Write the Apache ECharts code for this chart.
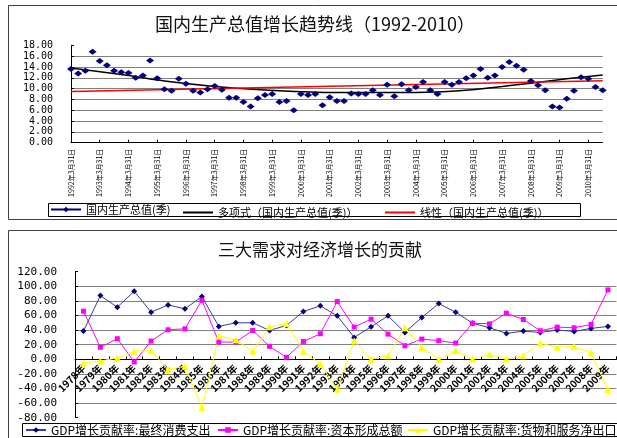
<!DOCTYPE html>
<html>
<head>
<meta charset="utf-8">
<script src="https://cdn.jsdelivr.net/npm/echarts@6/dist/echarts.min.js"></script>
<style>
  html, body { margin: 0; padding: 0; background: #fff; }
  #c { width: 617px; height: 438px; }
</style>
</head>
<body>
<div id="c"></div>
<script>
// ---- Quarterly GDP growth, 1992Q1 – 2010Q3 (%) ----
const gdpYears = [1992, 1993, 1994, 1995, 1996, 1997, 1998, 1999, 2000, 2001,
                  2002, 2003, 2004, 2005, 2006, 2007, 2008, 2009, 2010];
const quarterEnds = ['3月31日', '6月30日', '9月30日', '12月31日'];
const gdpQuarterly = [
  13.6, 12.8, 13.3, 16.8,   // 1992
  15.1, 14.3, 13.3, 13.0,   // 1993
  12.9, 12.0, 12.4, 15.2,   // 1994
  11.9,  9.9,  9.6, 11.8,   // 1995
  10.9,  9.6,  9.3,  9.9,   // 1996
  10.5,  9.8,  8.3,  8.3,   // 1997
   7.5,  6.7,  8.2,  8.8,   // 1998
   9.0,  7.5,  7.7,  6.0,   // 1999
   9.0,  8.8,  9.0,  6.9,   // 2000
   8.4,  7.7,  7.7,  9.1,   // 2001
   9.0,  9.0,  9.7,  8.8,   // 2002
  10.7,  8.6, 10.8,  9.7,   // 2003
  10.3, 11.2,  9.7,  9.0,   // 2004
  11.2, 10.7, 11.2, 11.9,   // 2005
  12.4, 13.6, 12.0, 12.4,   // 2006
  14.0, 14.9, 14.2, 13.5,   // 2007
  11.4, 10.6,  9.7,  6.7,   // 2008
   6.5,  8.1,  9.6, 12.1,   // 2009
  11.8, 10.3,  9.7          // 2010
];
// trend lines as [quarter index, value]
const polyTrend = [[0, 13.8], [8, 12.4], [13, 11.4], [20, 10.4], [27, 9.75], [37, 9.3],
                   [48, 9.3], [54, 9.6], [60, 10.4], [64, 11.0], [69, 11.8], [74, 12.5]];
const linearTrend = [[0, 9.45], [74, 11.45]];
const gdpAxis = { min: 0, max: 18, step: 2 };

// ---- Contribution of the three demands to GDP growth, 1978 – 2009 (%) ----
const demandYears = ['1978年', '1979年', '1980年', '1981年', '1982年', '1983年', '1984年', '1985年',
                     '1986年', '1987年', '1988年', '1989年', '1990年', '1991年', '1992年', '1993年',
                     '1994年', '1995年', '1996年', '1997年', '1998年', '1999年', '2000年', '2001年',
                     '2002年', '2003年', '2004年', '2005年', '2006年', '2007年', '2008年', '2009年'];
const consumption = [38.6, 87.3, 71.4, 93.2, 64.5, 74.5, 69.1, 85.9, 45.0, 50.0, 50.0, 39.5, 46.4, 65.5, 73.2, 59.5,
                     30.0, 44.5, 59.5, 36.8, 57.3, 76.4, 64.5, 49.5, 43.2, 35.5, 38.6, 36.8, 40.0, 38.2, 42.3, 45.0];
const capital     = [65.9, 16.4, 28.2, -3.6, 25.0, 40.5, 41.8, 80.9, 23.6, 23.6, 39.5, 17.7, 2.7, 24.5, 35.0, 79.1,
                     44.1, 55.0, 34.5, 18.6, 27.7, 25.5, 22.3, 49.5, 48.6, 63.2, 54.5, 39.1, 44.1, 43.2, 47.7, 95.0];
const netExports  = [-5.0, -2.3, 1.8, 10.9, 11.8, -14.1, -9.5, -66.4, 31.8, 26.8, 10.9, 44.5, 49.1, 10.9, -6.4, -40.9,
                     25.5, 0.0, 5.0, 43.2, 16.4, 0.0, 11.8, 0.5, 6.8, 0.5, 5.0, 22.3, 16.4, 17.7, 8.6, -41.4];
const demandAxis = { min: -80, max: 120, step: 20 };

const nameGdp = '国内生产总值(季)';
const namePoly = '多项式（国内生产总值(季)）';
const nameLinear = '线性（国内生产总值(季)）';
const nameCons = 'GDP增长贡献率:最终消费支出';
const nameCap = 'GDP增长贡献率:资本形成总额';
const nameNet = 'GDP增长贡献率:货物和服务净出口';

const gdpCategories = [];
gdpYears.forEach(y => quarterEnds.forEach(q => gdpCategories.push(y + '年' + q)));
gdpCategories.length = gdpQuarterly.length;

const cjk = "'Noto Sans CJK SC', sans-serif";
const mono = "'DejaVu Sans Mono', monospace";
const gridGray = '#808080';

// lower plot geometry: the category axis sits on the zero line
const demandGrid = { left: 75, right: 0.6, top: 271.7, height: 146 };
const zeroOffset = -demandGrid.height * (0 - demandAxis.min) / (demandAxis.max - demandAxis.min);

const chart = echarts.init(document.getElementById('c'), null, { renderer: 'canvas' });

function oneLegend(name, left, top, extra) {
  return Object.assign({
    data: [name], left: left, top: top, orient: 'horizontal',
    padding: 0, itemWidth: 30, itemHeight: 7, itemGap: 0,
    selectedMode: false,
    textStyle: { fontFamily: cjk, fontSize: 11, color: '#000' }
  }, extra || {});
}
const legendText12 = { fontFamily: cjk, fontSize: 12, color: '#000' };

chart.setOption({
  animation: false,
  backgroundColor: '#fff',
  title: [
    { text: '国内生产总值增长趋势线（1992-2010）', left: 310, top: 10, textAlign: 'center',
      textStyle: { fontFamily: cjk, fontSize: 18, fontWeight: 'normal', color: '#111' } },
    { text: '三大需求对经济增长的贡献', left: 315, top: 236, textAlign: 'center',
      textStyle: { fontFamily: cjk, fontSize: 17, fontWeight: 'normal', color: '#111' } }
  ],
  legend: [
    oneLegend(nameGdp, 50, 204, { lineStyle: { opacity: 1 } }),
    oneLegend(namePoly, 183, 207, { icon: 'rect', itemHeight: 2 }),
    oneLegend(nameLinear, 385, 207, { icon: 'rect', itemHeight: 2 }),
    oneLegend(nameCons, 25, 424, { itemWidth: 20, textStyle: legendText12 }),
    oneLegend(nameCap, 217, 424, { itemWidth: 20, textStyle: legendText12 }),
    oneLegend(nameNet, 407, 424, { itemWidth: 20, textStyle: legendText12 })
  ],
  grid: [
    { left: 71, right: 14.3, top: 45.3, height: 97.4, containLabel: false, outerBoundsMode: 'none' },
    Object.assign({ containLabel: false, outerBoundsMode: 'none' }, demandGrid)
  ],
  xAxis: [
    {
      gridIndex: 0, type: 'category', boundaryGap: false, data: gdpCategories,
      axisLine: { show: true, onZero: false, lineStyle: { color: '#000', width: 1 } },
      axisTick: { show: true, interval: 3, inside: true, length: 3, lineStyle: { color: '#000' } },
      axisLabel: { interval: 3, rotate: 90, fontFamily: cjk, fontSize: 7, color: '#000', margin: 6 },
      splitLine: { show: false }
    },
    {
      gridIndex: 1, type: 'category', boundaryGap: true, data: demandYears,
      position: 'bottom', offset: zeroOffset,
      axisLine: { show: true, onZero: false, lineStyle: { color: '#000', width: 1 } },
      axisTick: { show: true, interval: 0, inside: true, length: 3, lineStyle: { color: '#000' } },
      axisLabel: { interval: 0, rotate: 45, fontFamily: cjk, fontSize: 10, fontWeight: 'bold',
                   color: '#000', margin: 7 },
      splitLine: { show: false }
    }
  ],
  yAxis: [
    {
      gridIndex: 0, type: 'value', min: gdpAxis.min, max: gdpAxis.max, interval: gdpAxis.step,
      axisLine: { show: true, lineStyle: { color: '#000', width: 1 } },
      axisTick: { show: true, inside: true, length: 3, lineStyle: { color: '#000' } },
      axisLabel: { formatter: v => v.toFixed(2), fontFamily: mono, fontSize: 10, color: '#000', margin: 18 },
      splitLine: { show: true, showMinLine: false, showMaxLine: false, lineStyle: { color: gridGray, width: 1.2 } }
    },
    {
      gridIndex: 1, type: 'value', min: demandAxis.min, max: demandAxis.max, interval: demandAxis.step,
      axisLine: { show: true, lineStyle: { color: '#000', width: 1 } },
      axisTick: { show: true, inside: true, length: 3, lineStyle: { color: '#000' } },
      axisLabel: { formatter: v => v.toFixed(2), fontFamily: mono, fontSize: 11, color: '#000', margin: 18 },
      splitLine: { show: true, showMinLine: false, showMaxLine: false, lineStyle: { color: gridGray, width: 1.2 } }
    }
  ],
  series: [
    {
      name: nameGdp, type: 'line', xAxisIndex: 0, yAxisIndex: 0, data: gdpQuarterly,
      symbol: 'diamond', symbolSize: [8, 6], showAllSymbol: true,
      itemStyle: { color: '#000080' },
      lineStyle: { color: '#000080', width: 1, opacity: 0 }, z: 3
    },
    {
      name: namePoly, type: 'line', xAxisIndex: 0, yAxisIndex: 0, data: polyTrend,
      smooth: 0.4, showSymbol: false, symbol: 'none',
      itemStyle: { color: '#000' }, lineStyle: { color: '#000', width: 1.5 }, z: 2
    },
    {
      name: nameLinear, type: 'line', xAxisIndex: 0, yAxisIndex: 0, data: linearTrend,
      showSymbol: false, symbol: 'none',
      itemStyle: { color: '#ff0000' }, lineStyle: { color: '#ff0000', width: 1.5 }, z: 2
    },
    {
      name: nameCons, type: 'line', xAxisIndex: 1, yAxisIndex: 1, data: consumption,
      symbol: 'diamond', symbolSize: 6, showAllSymbol: true,
      itemStyle: { color: '#000080' }, lineStyle: { color: '#3a3a9a', width: 1 }
    },
    {
      name: nameCap, type: 'line', xAxisIndex: 1, yAxisIndex: 1, data: capital,
      symbol: 'rect', symbolSize: 5, showAllSymbol: true,
      itemStyle: { color: '#ff00ff' }, lineStyle: { color: '#ff00ff', width: 1 }
    },
    {
      name: nameNet, type: 'line', xAxisIndex: 1, yAxisIndex: 1, data: netExports,
      symbol: 'triangle', symbolSize: 7, showAllSymbol: true,
      itemStyle: { color: '#ffff00' }, lineStyle: { color: '#ffff00', width: 1 }
    }
  ],
  graphic: [
    // panel frames
    { type: 'rect', shape: { x: 8.5, y: 5.5, width: 640, height: 214 }, silent: true, z: 100,
      style: { fill: null, stroke: '#404040', lineWidth: 1 } },
    { type: 'rect', shape: { x: 8.5, y: 230.5, width: 640, height: 230 }, silent: true, z: 100,
      style: { fill: null, stroke: '#404040', lineWidth: 1 } },
    // legend boxes
    { type: 'rect', shape: { x: 48.5, y: 203.5, width: 532, height: 13 }, silent: true, z: 100,
      style: { fill: null, stroke: '#000', lineWidth: 1 } },
    { type: 'rect', shape: { x: 22.5, y: 423.5, width: 640, height: 13 }, silent: true, z: 100,
      style: { fill: null, stroke: '#000', lineWidth: 1 } }
  ]
});
</script>
</body>
</html>
